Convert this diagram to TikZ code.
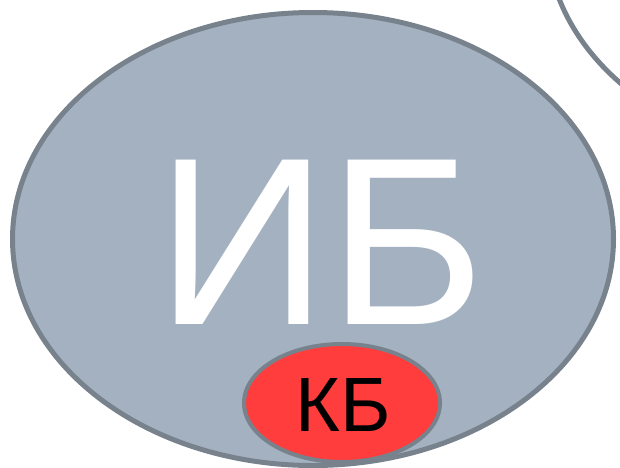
\documentclass[tikz,border=0pt]{standalone}
\usepackage{fontspec}
\setmainfont{Liberation Sans}
\definecolor{ibfill}{HTML}{A3B1C0}
\definecolor{edge}{HTML}{77828D}
\definecolor{kbfill}{HTML}{FF3D3D}
\begin{document}
\begin{tikzpicture}[x=1pt,y=1pt,
  circ/.style={draw=edge,line width=#1},
  circ/.default=5pt]
\useasboundingbox (0,0) rectangle (620,-467);
\begin{scope}
\clip (0,0) rectangle (620,-467);
\draw[circ, fill=white] (847,65) ellipse [x radius=300, y radius=226];
\draw[circ, fill=ibfill] (313,-239) ellipse [x radius=300.5, y radius=226.5];
\node[anchor=base, inner sep=0pt, text=white, font=\fontsize{239}{239}\selectfont] (ib) at (321,-324) {ИБ};
\draw[circ=4pt, fill=kbfill] (342,-403) ellipse [x radius=98, y radius=59];
\node[anchor=base, inner sep=0pt, text=black, font=\fontsize{77}{77}\selectfont] (kb) at (343,-431.5) {КБ};
\end{scope}
\end{tikzpicture}
\end{document}
